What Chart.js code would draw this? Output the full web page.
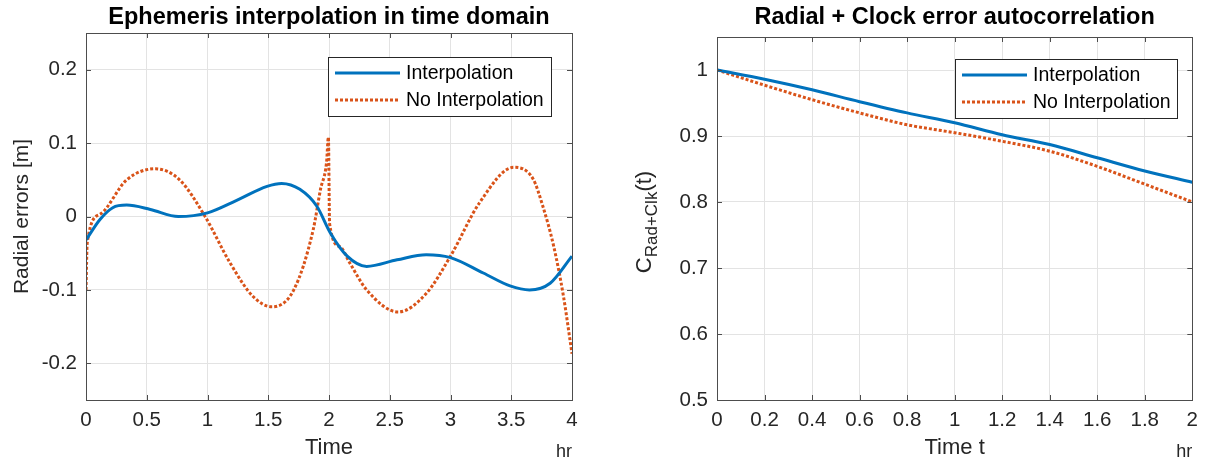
<!DOCTYPE html>
<html>
<head>
<meta charset="utf-8">
<script src="https://cdn.jsdelivr.net/npm/chart.js@4.4.1/dist/chart.umd.min.js"></script>
<style>
  body { margin: 0; background: #fff; }
  .wrap { position: absolute; top: 0; width: 603px; height: 465px; }
</style>
</head>
<body>
<div class="wrap" style="left:0"><canvas id="leftChart" width="603" height="465"></canvas></div>
<div class="wrap" style="left:603px"><canvas id="rightChart" width="603" height="465"></canvas></div>
<script>
// left plot: radial errors [m] vs time [hr]
var interpTime = [0, 0.115, 0.22, 0.335, 0.53, 0.76, 1.0, 1.24, 1.49, 1.61, 1.76, 1.9, 2.01, 2.15, 2.31, 2.56, 2.8, 3.0, 3.27, 3.49, 3.65, 3.82, 4.0];
var interpErr = [-0.032, -0.004, 0.012, 0.0155, 0.0096, 0, 0.005, 0.022, 0.041, 0.045, 0.037, 0.014, -0.022, -0.054, -0.068, -0.059, -0.052, -0.056, -0.077, -0.0945, -0.1, -0.091, -0.054];
var noInterpTime = [0, 0.01, 0.115, 0.335, 0.57, 0.77, 0.98, 1.185, 1.375, 1.53, 1.71, 1.87, 1.93, 1.98, 1.995, 2.005, 2.09, 2.17, 2.31, 2.57, 2.8, 3.0, 3.24, 3.52, 3.68, 3.76, 3.85, 3.93, 4.0];
var noInterpErr = [-0.1, -0.036, 0.003, 0.05, 0.065, 0.05, 0.0, -0.063, -0.109, -0.123, -0.1, -0.018, 0.037, 0.074, 0.108, -0.01, -0.041, -0.063, -0.1, -0.13, -0.105, -0.054, 0.019, 0.067, 0.051, 0.014, -0.041, -0.109, -0.187];
var leftXTicks = [0, 0.5, 1, 1.5, 2, 2.5, 3, 3.5, 4];
var leftYTicks = [-0.2, -0.1, 0, 0.1, 0.2];

// right plot: autocorrelation vs lag [hr]
var lagTime = [0, 0.2, 0.4, 0.6, 0.8, 1.0, 1.2, 1.4, 1.6, 1.8, 2.0];
var corrInterp = [1, 0.986, 0.97, 0.952, 0.935, 0.92, 0.902, 0.887, 0.867, 0.847, 0.830];
var corrNoInterp = [1, 0.977, 0.955, 0.935, 0.917, 0.905, 0.892, 0.877, 0.854, 0.827, 0.80];
var rightXTicks = [0, 0.2, 0.4, 0.6, 0.8, 1, 1.2, 1.4, 1.6, 1.8, 2];
var rightYTicks = [0.5, 0.6, 0.7, 0.8, 0.9, 1];

var seriesNames = ['Interpolation', 'No Interpolation'];

var BLUE = '#0072BD';
var ORANGE = '#D95319';
var FONT = '"Liberation Sans", Arial, sans-serif';
var TXT = '#262626';

function pts(xs, ys) {
  return xs.map(function(x, i) { return { x: x, y: ys[i] }; });
}

function makeDatasets(x1, y1, x2, y2) {
  return [{
    label: seriesNames[0],
    data: pts(x1, y1),
    borderColor: BLUE,
    borderWidth: 3,
    pointRadius: 0,
    cubicInterpolationMode: 'monotone'
  }, {
    label: seriesNames[1],
    data: pts(x2, y2),
    borderColor: ORANGE,
    borderWidth: 3,
    borderDash: [3, 2],
    pointRadius: 0,
    cubicInterpolationMode: 'monotone'
  }];
}

// box, inner ticks, titles, labels and legend, MATLAB style
var decor = {
  id: 'decor',
  afterDatasetsDraw: function(chart, args, o) {
    var ctx = chart.ctx, a = chart.chartArea;
    var xs = chart.scales.x, ys = chart.scales.y;
    ctx.save();
    ctx.strokeStyle = '#4d4d4d';
    ctx.lineWidth = 1;
    ctx.beginPath();
    xs.ticks.forEach(function(t) {
      var px = Math.round(xs.getPixelForValue(t.value)) + 0.5;
      ctx.moveTo(px, a.bottom); ctx.lineTo(px, a.bottom - 5);
      ctx.moveTo(px, a.top); ctx.lineTo(px, a.top + 5);
    });
    ys.ticks.forEach(function(t) {
      var py = Math.round(ys.getPixelForValue(t.value)) + 0.5;
      ctx.moveTo(a.left, py); ctx.lineTo(a.left + 5, py);
      ctx.moveTo(a.right, py); ctx.lineTo(a.right - 5, py);
    });
    ctx.stroke();
    ctx.strokeRect(Math.round(a.left) + 0.5, Math.round(a.top) + 0.5, Math.round(a.right - a.left), Math.round(a.bottom - a.top));

    // legend
    var lg = o.legend;
    ctx.fillStyle = '#fff';
    ctx.fillRect(lg.x, lg.y, lg.w, lg.h);
    ctx.strokeStyle = '#262626';
    ctx.strokeRect(lg.x + 0.5, lg.y + 0.5, lg.w, lg.h);
    chart.data.datasets.forEach(function(ds, i) {
      var ry = lg.y + 16 + i * 27;
      ctx.strokeStyle = ds.borderColor;
      ctx.lineWidth = 3;
      ctx.setLineDash(ds.borderDash || []);
      ctx.beginPath();
      ctx.moveTo(lg.x + 7, ry); ctx.lineTo(lg.x + 72, ry);
      ctx.stroke();
      ctx.setLineDash([]);
      ctx.fillStyle = '#000';
      ctx.font = '19.5px ' + FONT;
      ctx.textAlign = 'left';
      ctx.textBaseline = 'middle';
      ctx.fillText(ds.label, lg.x + 78, ry + 1);
    });

    var cx = (a.left + a.right) / 2;
    ctx.fillStyle = '#000';
    ctx.font = 'bold 23.5px ' + FONT;
    ctx.textAlign = 'center';
    ctx.textBaseline = 'middle';
    ctx.fillText(o.title, cx, 18);

    ctx.fillStyle = TXT;
    ctx.font = '22px ' + FONT;
    ctx.fillText(o.xLabel, cx, 448);
    ctx.font = '18px ' + FONT;
    ctx.textAlign = 'right';
    ctx.fillText('hr', a.right, 452);

    o.drawYLabel(ctx, a);
    ctx.restore();
  }
};

function axes(xmin, xmax, xt, ymin, ymax, yt, yWidth) {
  var tickFont = { family: FONT, size: 20.5 };
  return {
    x: {
      type: 'linear', min: xmin, max: xmax,
      afterBuildTicks: function(s) { s.ticks = xt.map(function(v) { return { value: v }; }); },
      afterFit: function(s) { s.height = 65; },
      ticks: { font: tickFont, color: TXT, padding: 8, maxRotation: 0, callback: function(v) { return String(v); } },
      grid: { color: '#e3e3e3', drawTicks: false },
      border: { display: false }
    },
    y: {
      type: 'linear', min: ymin, max: ymax,
      afterBuildTicks: function(s) { s.ticks = yt.map(function(v) { return { value: v }; }); },
      afterFit: function(s) { s.width = yWidth; },
      ticks: { font: tickFont, color: TXT, padding: 9, callback: function(v) { return String(v); } },
      grid: { color: '#e3e3e3', drawTicks: false },
      border: { display: false }
    }
  };
}

document.addEventListener('DOMContentLoaded', function() {
  new Chart(document.getElementById('leftChart'), {
    type: 'line',
    data: { datasets: makeDatasets(interpTime, interpErr, noInterpTime, noInterpErr) },
    options: {
      responsive: false, animation: false, devicePixelRatio: 1,
      layout: { padding: { left: 0, right: 31, top: 33, bottom: 0 } },
      scales: axes(0, 4, leftXTicks, -0.25, 0.25, leftYTicks, 86),
      plugins: {
        legend: { display: false }, tooltip: { enabled: false },
        decor: {
          title: 'Ephemeris interpolation in time domain',
          xLabel: 'Time',
          legend: { x: 328, y: 57, w: 223, h: 59 },
          drawYLabel: function(ctx, a) {
            ctx.save();
            ctx.translate(22, (a.top + a.bottom) / 2);
            ctx.rotate(-Math.PI / 2);
            ctx.font = '21px ' + FONT;
            ctx.fillStyle = TXT;
            ctx.textAlign = 'center';
            ctx.textBaseline = 'middle';
            ctx.fillText('Radial errors [m]', 0, 0);
            ctx.restore();
          }
        }
      }
    },
    plugins: [decor]
  });

  new Chart(document.getElementById('rightChart'), {
    type: 'line',
    data: { datasets: makeDatasets(lagTime, corrInterp, lagTime, corrNoInterp) },
    options: {
      responsive: false, animation: false, devicePixelRatio: 1,
      layout: { padding: { left: 0, right: 9, top: 37, bottom: 0 } },
      scales: axes(0, 2, rightXTicks, 0.5, 1.05, rightYTicks, 114),
      plugins: {
        legend: { display: false }, tooltip: { enabled: false },
        decor: {
          title: 'Radial + Clock error autocorrelation',
          xLabel: 'Time t',
          legend: { x: 352, y: 59, w: 222, h: 59 },
          drawYLabel: function(ctx, a) {
            // C_{Rad+Clk}(t) with a real subscript
            ctx.save();
            ctx.translate(48, 222);
            ctx.rotate(-Math.PI / 2);
            ctx.fillStyle = TXT;
            ctx.textAlign = 'left';
            ctx.textBaseline = 'alphabetic';
            var big = '22px ' + FONT, small = '17px ' + FONT;
            ctx.font = big; var wC = ctx.measureText('C').width, wT = ctx.measureText('(t)').width;
            ctx.font = small; var wS = ctx.measureText('Rad+Clk').width;
            var x0 = -(wC + wS + wT) / 2;
            ctx.font = big; ctx.fillText('C', x0, 0);
            ctx.font = small; ctx.fillText('Rad+Clk', x0 + wC, 6);
            ctx.font = big; ctx.fillText('(t)', x0 + wC + wS, 0);
            ctx.restore();
          }
        }
      }
    },
    plugins: [decor]
  });
});
</script>
</body>
</html>
